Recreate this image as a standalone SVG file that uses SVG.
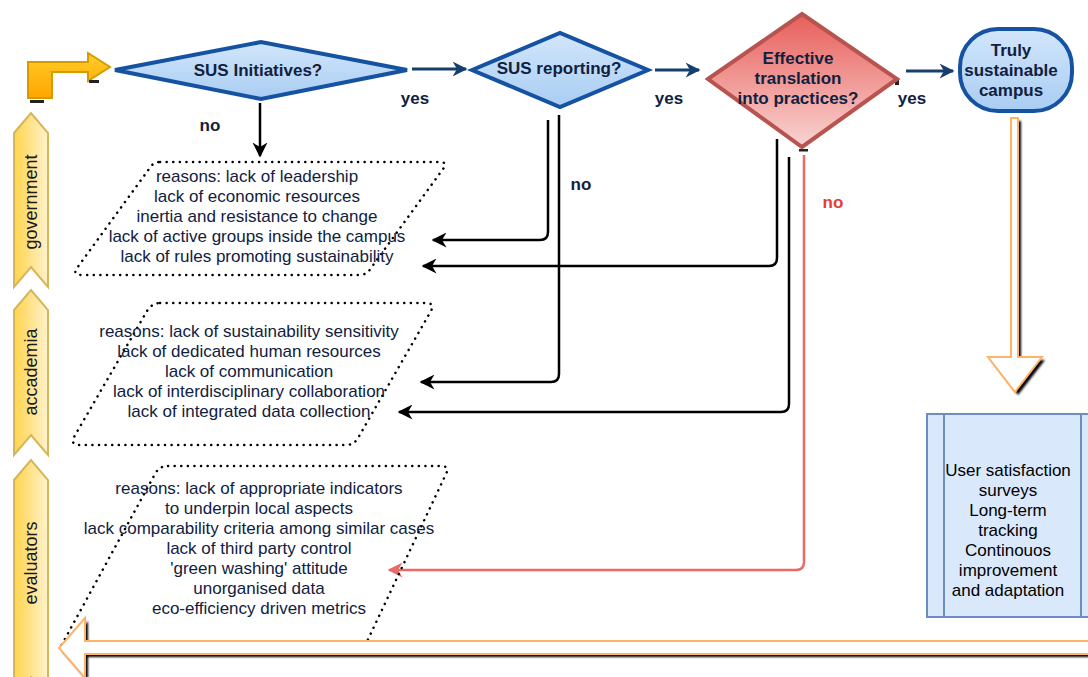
<svg xmlns="http://www.w3.org/2000/svg" width="1088" height="677" viewBox="0 0 1088 677">
<defs>
<linearGradient id="gBlue" x1="0" y1="0" x2="0" y2="1"><stop offset="0" stop-color="#d2e6fb"/><stop offset="1" stop-color="#a9cdf3"/></linearGradient>
<linearGradient id="gRed" x1="0" y1="0" x2="0" y2="1"><stop offset="0" stop-color="#e85e5a"/><stop offset="1" stop-color="#f9d4d2"/></linearGradient>
<linearGradient id="gYel" x1="0" y1="0" x2="1" y2="0"><stop offset="0" stop-color="#ffd44d"/><stop offset="1" stop-color="#fff2cc"/></linearGradient>
<linearGradient id="gOr" x1="0" y1="0" x2="0" y2="1"><stop offset="0" stop-color="#ffcd28"/><stop offset="1" stop-color="#ffa500"/></linearGradient>
<marker id="mBlue" viewBox="0 0 10 10" refX="9" refY="5" markerWidth="5" markerHeight="5" orient="auto" markerUnits="strokeWidth"><path d="M0,0 L10,5 L0,10 L3,5 Z" fill="#163e6f"/></marker>
<marker id="mBlack" viewBox="0 0 10 10" refX="9" refY="5" markerWidth="6" markerHeight="6" orient="auto" markerUnits="strokeWidth"><path d="M0,0 L10,5 L0,10 L3,5 Z" fill="#000"/></marker>
<marker id="mRed" viewBox="0 0 10 10" refX="9" refY="5" markerWidth="6" markerHeight="6" orient="auto" markerUnits="strokeWidth"><path d="M0,0 L10,5 L0,10 L3,5 Z" fill="#ea6b66"/></marker>
<filter id="blur" x="-10%" y="-10%" width="120%" height="120%"><feGaussianBlur stdDeviation="0.8"/></filter>
</defs>
<style>
text{font-family:"Liberation Sans",Arial,sans-serif;fill:#10213f}
.b{font-weight:bold;font-size:17px}
.r{font-size:17px}
.lane{font-size:18px;fill:#1a1a1a}
.dec{fill:url(#gBlue);stroke:#1552a2;stroke-width:4}
.dot{fill:none;stroke:#000;stroke-width:2.5;stroke-dasharray:0.1 6.5;stroke-linecap:round;stroke-linejoin:round}
.bl{fill:none;stroke:#163e6f;stroke-width:3;marker-end:url(#mBlue)}
.bk{fill:none;stroke:#000;stroke-width:2.5;marker-end:url(#mBlack)}
.rd{fill:none;stroke:#ea6b66;stroke-width:2.5;marker-end:url(#mRed)}
.step{fill:url(#gYel);stroke:#d6b656;stroke-width:2}
.oarr{fill:#fff;stroke:#ffb366;stroke-width:2}
.sh{fill:#000;filter:url(#blur)}
.mk{fill:#222}
</style>

<g id="lane-government"><polygon class="step" points="14,133 31,113 48,133 48,287 31,267 14,287"/><text class="lane" transform="translate(37,202) rotate(-90)" text-anchor="middle">government</text></g>
<g id="lane-accademia"><polygon class="step" points="14,310 31,290 48,310 48,455 31,435 14,455"/><text class="lane" transform="translate(37,372) rotate(-90)" text-anchor="middle">accademia</text></g>
<g id="lane-evaluators"><polygon class="step" points="14,480 31,460 48,480 48,697 31,677 14,697"/><text class="lane" transform="translate(37,563) rotate(-90)" text-anchor="middle">evaluators</text></g>

<g id="start"><polygon points="28,98 28,62 88,62 88,53 110,67 88,81 88,72 52,72 52,98" fill="url(#gOr)" stroke="#d79b00" stroke-width="2"/><rect class="mk" x="30" y="100" width="14" height="3"/><rect class="mk" x="89" y="80" width="10" height="3"/></g>

<g id="connectors">
<path class="bl" d="M412,69 H466"/>
<path class="bl" d="M655,70 H699"/>
<path class="bl" d="M906,71 H953"/>
<path class="bk" d="M260,103 V156"/>
<path class="bk" d="M548,120 V232 Q548,240 540,240 H433"/>
<path class="bk" d="M559,115 V374 Q559,382 551,382 H421"/>
<path class="bk" d="M777,139 V258 Q777,266 769,266 H423"/>
<path class="bk" d="M789,157 V404 Q789,412 781,412 H399"/>
<path class="rd" d="M804,155 V562 Q804,570 796,570 H389"/>
<rect class="mk" x="799" y="149" width="9" height="2.5"/>
<rect class="mk" x="895" y="80" width="4" height="5"/>
</g>

<g id="d-initiatives"><polygon class="dec" points="115,70 261,42 407,70 261,99"/><text class="b" x="258" y="76" text-anchor="middle">SUS Initiatives?</text></g>
<g id="d-reporting"><polygon class="dec" points="472,70 560,33 648,70 560,107"/><text class="b" x="559" y="74" text-anchor="middle">SUS reporting?</text></g>
<g id="d-translation"><polygon points="708,79 802,14 897,79 802,147" fill="url(#gRed)" stroke="#b85450" stroke-width="4"/><text class="b" text-anchor="middle"><tspan x="798" y="64">Effective</tspan><tspan x="798" y="84">translation</tspan><tspan x="798" y="104">into practices?</tspan></text></g>
<g id="t-campus"><rect x="960" y="29" width="112" height="82" rx="38" ry="38" class="dec"/><text class="b" text-anchor="middle"><tspan x="1011" y="56">Truly</tspan><tspan x="1011" y="76">sustainable</tspan><tspan x="1011" y="96">campus</tspan></text></g>

<g id="labels">
<text class="b" x="415" y="104" text-anchor="middle">yes</text>
<text class="b" x="669" y="104" text-anchor="middle">yes</text>
<text class="b" x="912" y="104" text-anchor="middle">yes</text>
<text class="b" x="210" y="131" text-anchor="middle">no</text>
<text class="b" x="581" y="190" text-anchor="middle">no</text>
<text class="b" x="833" y="208" text-anchor="middle" style="fill:#ea3a35">no</text>
</g>

<g id="p-government"><path class="dot" d="M160,162 H440 Q448,162 443,169 L371,268 Q367,275 359,275 H82 Q72,275 77,268 L149,169 Q153,162 160,162 Z"/>
<text class="r" text-anchor="middle"><tspan x="257" y="182">reasons: lack of leadership</tspan><tspan x="257" y="202">lack of economic resources</tspan><tspan x="257" y="222">inertia and resistance to change</tspan><tspan x="257" y="242">lack of active groups inside the campus</tspan><tspan x="257" y="262">lack of rules promoting sustainability</tspan></text></g>

<g id="p-accademia"><path class="dot" d="M160,303 H426 Q435,303 431,311 L358,438 Q354,445 346,445 H80 Q70,445 74,437 L147,311 Q152,303 160,303 Z"/>
<text class="r" text-anchor="middle"><tspan x="249" y="337">reasons: lack of sustainability sensitivity</tspan><tspan x="249" y="357">lack of dedicated human resources</tspan><tspan x="249" y="377">lack of communication</tspan><tspan x="249" y="397">lack of interdisciplinary collaboration</tspan><tspan x="249" y="417">lack of integrated data collection</tspan></text></g>

<g id="p-evaluators"><path class="dot" d="M168,466 H441 Q450,466 446,474 L364,648 H60 L155,474 Q159,466 168,466 Z"/>
<text class="r" text-anchor="middle"><tspan x="259" y="494">reasons: lack of appropriate indicators</tspan><tspan x="259" y="514">to underpin local aspects</tspan><tspan x="259" y="534">lack comparability criteria among similar cases</tspan><tspan x="259" y="554">lack of third party control</tspan><tspan x="259" y="574">'green washing' attitude</tspan><tspan x="259" y="594">unorganised data</tspan><tspan x="259" y="614">eco-efficiency driven metrics</tspan></text></g>

<g id="arrow-down"><polygon class="sh" points="1014,121 1021,121 1021,360 1045,360 1018,395 991,360 1014,360"/><polygon class="oarr" points="1011,118 1018,118 1018,357 1042,357 1015,392 988,357 1011,357"/></g>

<g id="box-monitoring"><rect x="927" y="414" width="170" height="203" fill="#dae8fc" stroke="#6c8ebf" stroke-width="2"/><line x1="944" y1="414" x2="944" y2="617" stroke="#6c8ebf" stroke-width="2"/><line x1="1081" y1="414" x2="1081" y2="617" stroke="#6c8ebf" stroke-width="2"/>
<text class="r" text-anchor="middle" style="fill:#000"><tspan x="1008" y="476">User satisfaction</tspan><tspan x="1008" y="496">surveys</tspan><tspan x="1008" y="516">Long-term</tspan><tspan x="1008" y="536">tracking</tspan><tspan x="1008" y="556">Continouos</tspan><tspan x="1008" y="576">improvement</tspan><tspan x="1008" y="596">and adaptation</tspan></text></g>

<g id="arrow-back"><polygon class="sh" points="1095,644 88,644 88,621 62,651 88,681 88,657 1095,657"/><polygon class="oarr" points="1092,641 85,641 85,618 59,648 85,678 85,654 1092,654"/></g>
</svg>
